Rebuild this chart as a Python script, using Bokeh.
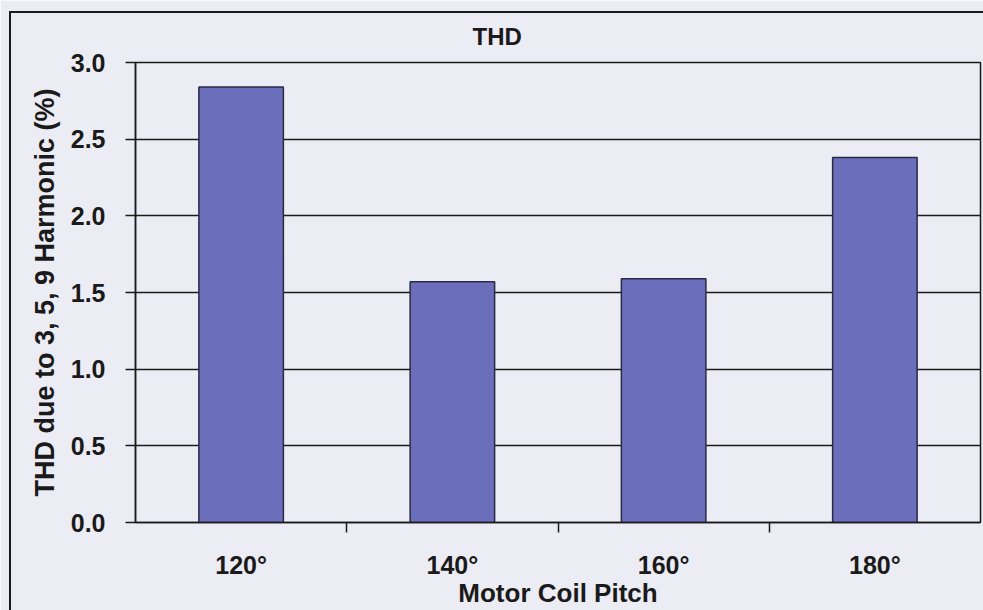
from bokeh.plotting import figure
from bokeh.models import Range1d, FixedTicker, NumeralTickFormatter, InlineStyleSheet
from bokeh.embed import file_html
from bokeh.resources import INLINE

# ---- data ----
categories = ["120°", "140°", "160°", "180°"]
thd_values = [2.84, 1.57, 1.59, 2.38]
y_ticks = [0.0, 0.5, 1.0, 1.5, 2.0, 2.5, 3.0]

title_text = "THD"
x_label = "Motor Coil Pitch"
y_label = "THD due to 3, 5, 9 Harmonic (%)"

BG = "#ECECF4"
BAR = "#6B6EBA"
INK = "#1a1a1a"
FONT = "Liberation Sans"

n = len(categories)
xs = [i + 0.5 for i in range(n)]

p = figure(width=983, height=610, output_backend="svg", toolbar_location=None,
           x_range=Range1d(0, n), y_range=Range1d(0, 3.0),
           min_border_left=135, min_border_right=3, min_border_top=62, min_border_bottom=87)

p.vbar(x=xs, top=thd_values, width=0.4, fill_color=BAR, line_color="#2a2a45", line_width=1.5)

p.background_fill_color = BG
p.border_fill_color = BG
p.outline_line_color = INK
p.outline_line_width = 1.5

p.xgrid.visible = False
p.ygrid.grid_line_color = INK
p.ygrid.grid_line_width = 1.5
p.ygrid.ticker = FixedTicker(ticks=y_ticks)

ya = p.yaxis[0]
ya.ticker = FixedTicker(ticks=y_ticks)
ya.formatter = NumeralTickFormatter(format="0.0")
ya.axis_line_color = INK
ya.axis_line_width = 1.5
ya.major_tick_in = 0
ya.major_tick_out = 10
ya.major_tick_line_color = INK
ya.major_tick_line_width = 1.5
ya.minor_tick_line_color = None
ya.major_label_text_font = FONT
ya.major_label_text_font_style = "bold"
ya.major_label_text_font_size = "25px"
ya.major_label_text_color = INK
ya.major_label_standoff = 20
ya.axis_label = y_label
ya.axis_label_text_font = FONT
ya.axis_label_text_font_style = "bold"
ya.axis_label_text_font_size = "27px"
ya.axis_label_text_color = INK
ya.axis_label_standoff = 8

xa = p.xaxis[0]
xa.ticker = FixedTicker(ticks=xs, minor_ticks=list(range(1, n)))
xa.major_label_overrides = {x: c for x, c in zip(xs, categories)}
xa.axis_line_color = INK
xa.axis_line_width = 1.5
xa.major_tick_in = 0
xa.major_tick_out = 0
xa.minor_tick_in = 0
xa.minor_tick_out = 10
xa.minor_tick_line_color = INK
xa.minor_tick_line_width = 1.5
xa.major_label_text_font = FONT
xa.major_label_text_font_style = "bold"
xa.major_label_text_font_size = "25px"
xa.major_label_text_color = INK
xa.major_label_standoff = 18
xa.axis_label = x_label
xa.axis_label_text_font = FONT
xa.axis_label_text_font_style = "bold"
xa.axis_label_text_font_size = "26px"
xa.axis_label_text_color = INK
xa.axis_label_standoff = -4

p.title.text = title_text
p.title.align = "left"
p.title.offset = 337
p.title.text_font = FONT
p.title.text_font_style = "bold"
p.title.text_font_size = "24px"
p.title.text_color = INK
p.title.standoff = 26

# outer chart-area border (only its left and top edges are in view)
p.stylesheets = [InlineStyleSheet(css=(
    ":host { position: relative; }"
    ":host::after { content: ''; position: absolute; left: 9px; top: 11px; right: 0; bottom: 0;"
    " border-left: 2px solid #1a1a1a; border-top: 2px solid #1a1a1a;"
    " pointer-events: none; z-index: 10; }"
))]

html = file_html(p, INLINE)
html = html.replace("<body>", '<body style="background:%s">' % BG, 1)
open("out.html", "w").write(html)
